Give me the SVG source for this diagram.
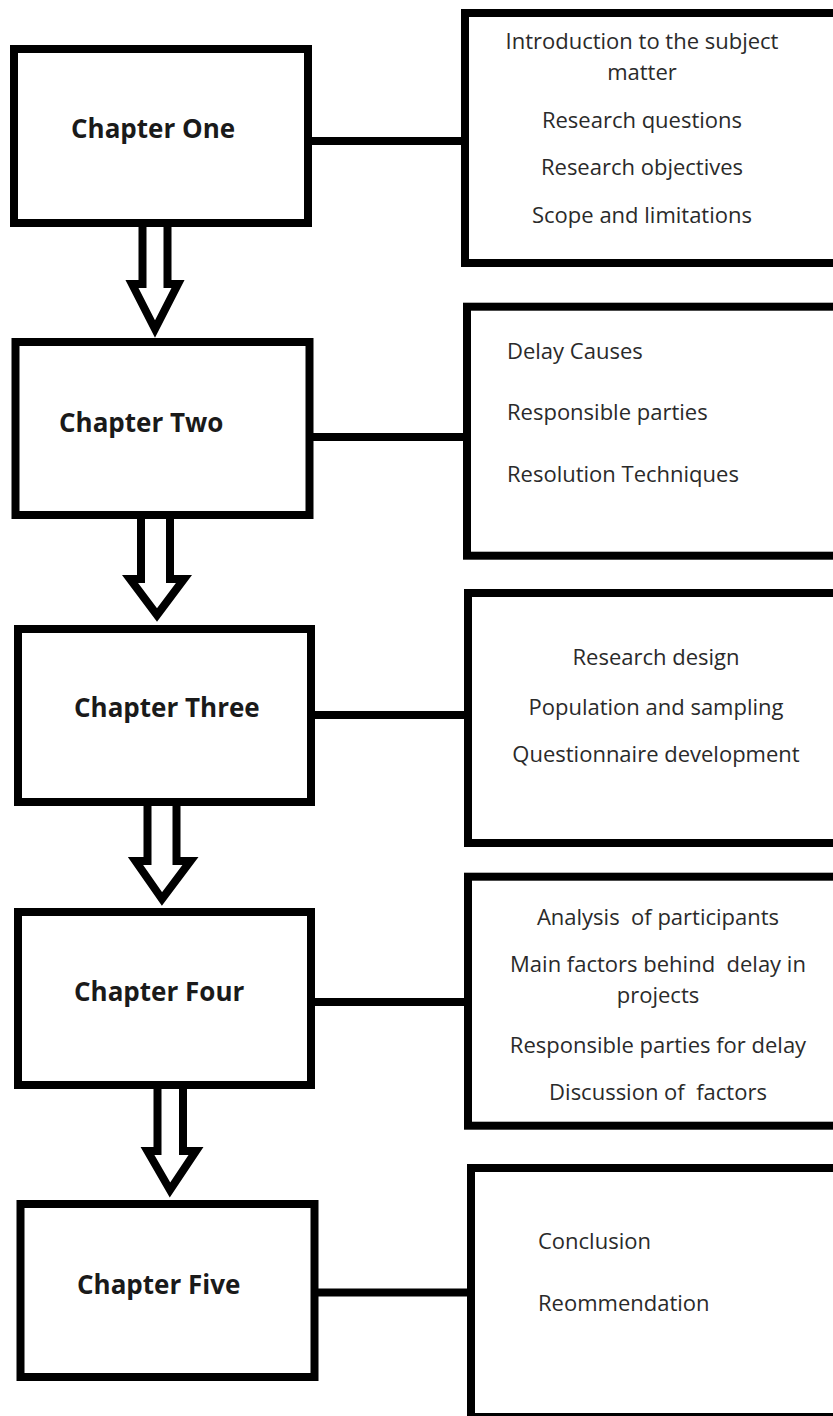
<svg xmlns="http://www.w3.org/2000/svg" width="833" height="1416" viewBox="0 0 833 1416">
<style>
.box{fill:#fff;stroke:#000;stroke-width:8;}
.conn{stroke:#000;stroke-width:8;fill:none;}
.arrow{fill:#fff;stroke:#000;stroke-width:8;stroke-linejoin:miter;}
.title{font-family:"Open Sans","Liberation Sans",sans-serif;font-weight:bold;font-size:26px;fill:#1a1a1a;}
.item{font-family:"Open Sans","Liberation Sans",sans-serif;font-size:22px;fill:#2a2a2a;white-space:pre;}
.c{text-anchor:middle;}
</style>
<rect width="833" height="1416" fill="#fff"/>
<g id="connectors">
<line class="conn" x1="310" y1="141" x2="463" y2="141"/>
<line class="conn" x1="311" y1="437" x2="465" y2="437"/>
<line class="conn" x1="313" y1="715" x2="466" y2="715"/>
<line class="conn" x1="313" y1="1002" x2="466" y2="1002"/>
<line class="conn" x1="316" y1="1292.5" x2="469" y2="1292.5"/>
<path class="arrow" d="M142.5,224 V284 H132 L155,329 L178,284 H167.5 V224"/>
<path class="arrow" d="M141,516 V579 H130 L157,615 L184,579 H170 V516"/>
<path class="arrow" d="M147.5,803 V861 H135.5 L162,899 L190.5,861 H176.5 V803"/>
<path class="arrow" d="M157.5,1086 V1151 H147.5 L170,1190 L196,1151 H183 V1086"/>
</g>
<g id="chapter1">
<rect class="box" x="14" y="49" width="294" height="174"/>
<text class="title" x="71" y="138">Chapter One</text>
</g>
<g id="chapter2">
<rect class="box" x="15.5" y="342" width="294" height="173"/>
<text class="title" x="59" y="432">Chapter Two</text>
</g>
<g id="chapter3">
<rect class="box" x="18" y="629" width="293" height="173"/>
<text class="title" x="74" y="717">Chapter Three</text>
</g>
<g id="chapter4">
<rect class="box" x="18" y="912" width="293" height="173"/>
<text class="title" x="74" y="1001">Chapter Four</text>
</g>
<g id="chapter5">
<rect class="box" x="20.5" y="1204" width="294" height="173"/>
<text class="title" x="77" y="1294">Chapter Five</text>
</g>
<g id="details1">
<rect class="box" x="465" y="13" width="400" height="250"/>
<text class="item c" x="642" y="49">Introduction to the subject</text>
<text class="item c" x="642" y="80">matter</text>
<text class="item c" x="642" y="128">Research questions</text>
<text class="item c" x="642" y="175">Research objectives</text>
<text class="item c" x="642" y="223">Scope and limitations</text>
</g>
<g id="details2">
<rect class="box" x="467" y="306.7" width="400" height="249"/>
<text class="item" x="507" y="359">Delay Causes</text>
<text class="item" x="507" y="420">Responsible parties</text>
<text class="item" x="507" y="482">Resolution Techniques</text>
</g>
<g id="details3">
<rect class="box" x="468" y="593" width="400" height="250"/>
<text class="item c" x="656" y="665">Research design</text>
<text class="item c" x="656" y="715">Population and sampling</text>
<text class="item c" x="656" y="762">Questionnaire development</text>
</g>
<g id="details4">
<rect class="box" x="468" y="876.7" width="400" height="249"/>
<text class="item c" x="658" y="925" xml:space="preserve">Analysis  of participants</text>
<text class="item c" x="658" y="972" xml:space="preserve">Main factors behind  delay in</text>
<text class="item c" x="658" y="1003">projects</text>
<text class="item c" x="658" y="1053">Responsible parties for delay</text>
<text class="item c" x="658" y="1100" xml:space="preserve">Discussion of  factors</text>
</g>
<g id="details5">
<rect class="box" x="471" y="1168" width="400" height="249"/>
<text class="item" x="538" y="1249">Conclusion</text>
<text class="item" x="538" y="1311">Reommendation</text>
</g>
</svg>
